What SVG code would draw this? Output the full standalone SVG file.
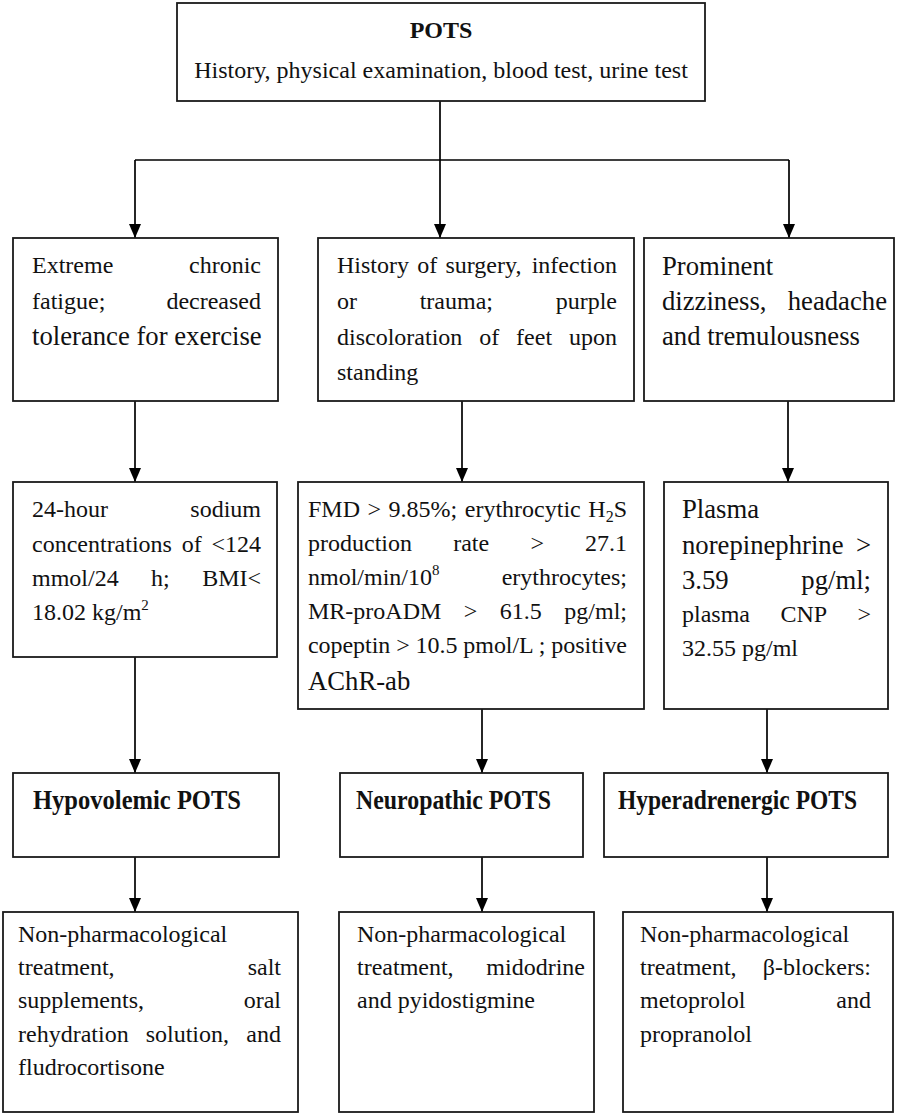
<svg xmlns="http://www.w3.org/2000/svg" width="899" height="1117" viewBox="0 0 899 1117">
<defs>
<marker id="ah" viewBox="0 0 14 12" refX="14" refY="6" markerWidth="14" markerHeight="12" markerUnits="userSpaceOnUse" orient="auto">
<path d="M0,0 L14,6 L0,12 z" fill="#000"/>
</marker>
<style>
.box{fill:#fff;stroke:#1a1a1a;stroke-width:1.8}
.ln{fill:none;stroke:#000;stroke-width:1.7}
.ar{fill:none;stroke:#000;stroke-width:1.7;marker-end:url(#ah)}
text{font-family:"Liberation Serif","Times New Roman",serif;font-size:24px;fill:#111}
.big{font-size:26.7px}
.bold{font-weight:bold}
.ttl{font-weight:bold;font-size:27px}
.e{text-anchor:end}
.c{text-anchor:middle}
</style>
</defs>
<rect width="899" height="1117" fill="#fff"/>

<g id="connectors">
<path class="ln" d="M440,101 V160 M135,160 H789"/>
<path class="ar" d="M135,160 V238"/>
<path class="ar" d="M440,160 V238"/>
<path class="ar" d="M789,160 V238"/>
<path class="ar" d="M135,401 V482"/>
<path class="ar" d="M462,401 V482"/>
<path class="ar" d="M788,401 V482"/>
<path class="ar" d="M135,657 V773"/>
<path class="ar" d="M482,709 V773"/>
<path class="ar" d="M767,709 V773"/>
<path class="ar" d="M135,857 V912"/>
<path class="ar" d="M482,857 V912"/>
<path class="ar" d="M767,857 V912"/>
</g>

<g id="root">
<rect class="box" x="177" y="3" width="528" height="98"/>
<text class="bold c" x="441" y="38">POTS</text>
<text class="c" x="441" y="78">History, physical examination, blood test, urine test</text>
</g>

<g id="sym-hypo">
<rect class="box" x="13" y="238" width="265" height="163"/>
<text y="273"><tspan x="32">Extreme</tspan><tspan class="e" x="261">chronic</tspan></text>
<text y="309"><tspan x="32">fatigue;</tspan><tspan class="e" x="261">decreased</tspan></text>
<text class="big" x="32" y="345">tolerance for exercise</text>
</g>

<g id="sym-neuro">
<rect class="box" x="318" y="238" width="316" height="163"/>
<text y="273"><tspan x="337">History</tspan><tspan x="417.2">of</tspan><tspan x="445.4">surgery,</tspan><tspan class="e" x="617">infection</tspan></text>
<text y="309"><tspan x="337">or</tspan><tspan x="419.7">trauma;</tspan><tspan class="e" x="617">purple</tspan></text>
<text y="345"><tspan x="337">discoloration</tspan><tspan x="479.2">of</tspan><tspan x="516.1">feet</tspan><tspan class="e" x="617">upon</tspan></text>
<text x="337" y="380">standing</text>
</g>

<g id="sym-hyper">
<rect class="box" x="644" y="238" width="250" height="163"/>
<text class="big" x="662" y="275">Prominent</text>
<text class="big" y="310"><tspan x="662">dizziness,</tspan><tspan class="e" x="887">headache</tspan></text>
<text class="big" x="662" y="345">and tremulousness</text>
</g>

<g id="test-hypo">
<rect class="box" x="13" y="482" width="264" height="175"/>
<text y="517"><tspan x="32">24-hour</tspan><tspan class="e" x="261">sodium</tspan></text>
<text y="552"><tspan x="32">concentrations</tspan><tspan x="181.7">of</tspan><tspan class="e" x="261">&lt;124</tspan></text>
<text y="586"><tspan x="32">mmol/24</tspan><tspan x="151.1">h;</tspan><tspan class="e" x="261">BMI&lt;</tspan></text>
<text x="32" y="620">18.02 kg/m<tspan font-size="15" dy="-10">2</tspan></text>
</g>

<g id="test-neuro">
<rect class="box" x="298" y="482" width="346" height="227"/>
<text y="517"><tspan x="308">FMD</tspan><tspan x="367.5">&gt;</tspan><tspan x="388.6">9.85%;</tspan><tspan x="464.8">erythrocytic</tspan><tspan class="e" x="627">H<tspan font-size="16" dy="5">2</tspan><tspan dy="-5">S</tspan></tspan></text>
<text y="551"><tspan x="308">production</tspan><tspan x="453.2">rate</tspan><tspan x="530.4">&gt;</tspan><tspan class="e" x="627">27.1</tspan></text>
<text y="585"><tspan x="308">nmol/min/10<tspan font-size="15" dy="-10">8</tspan></tspan><tspan class="e" x="627" dy="10">erythrocytes;</tspan></text>
<text y="619"><tspan x="308">MR-proADM</tspan><tspan x="463.8">&gt;</tspan><tspan x="499.8">61.5</tspan><tspan class="e" x="627">pg/ml;</tspan></text>
<text x="308" y="653" textLength="319" lengthAdjust="spacing">copeptin &gt; 10.5 pmol/L ; positive</text>
<text class="big" x="308" y="690">AChR-ab</text>
</g>

<g id="test-hyper">
<rect class="box" x="664" y="482" width="224" height="227"/>
<text class="big" x="682" y="518">Plasma</text>
<text class="big" y="554"><tspan x="682">norepinephrine</tspan><tspan class="e" x="871">&gt;</tspan></text>
<text class="big" y="589"><tspan x="682">3.59</tspan><tspan class="e" x="871">pg/ml;</tspan></text>
<text y="622"><tspan x="682">plasma</tspan><tspan x="780.4">CNP</tspan><tspan class="e" x="871">&gt;</tspan></text>
<text x="682" y="656">32.55 pg/ml</text>
</g>

<g id="type-hypo">
<rect class="box" x="13" y="773" width="266" height="84"/>
<text class="ttl" x="33" y="809" textLength="208" lengthAdjust="spacingAndGlyphs">Hypovolemic POTS</text>
</g>
<g id="type-neuro">
<rect class="box" x="340" y="773" width="243" height="84"/>
<text class="ttl" x="356" y="809" textLength="195" lengthAdjust="spacingAndGlyphs">Neuropathic POTS</text>
</g>
<g id="type-hyper">
<rect class="box" x="604" y="773" width="284" height="84"/>
<text class="ttl" x="618" y="809" textLength="239" lengthAdjust="spacingAndGlyphs">Hyperadrenergic POTS</text>
</g>

<g id="tx-hypo">
<rect class="box" x="3" y="912" width="295" height="200"/>
<text x="18" y="942">Non-pharmacological</text>
<text y="975"><tspan x="18">treatment,</tspan><tspan class="e" x="281">salt</tspan></text>
<text y="1008"><tspan x="18">supplements,</tspan><tspan class="e" x="281">oral</tspan></text>
<text y="1042"><tspan x="18">rehydration</tspan><tspan x="145.7">solution,</tspan><tspan class="e" x="281">and</tspan></text>
<text x="18" y="1075">fludrocortisone</text>
</g>
<g id="tx-neuro">
<rect class="box" x="339" y="912" width="255" height="200"/>
<text x="357" y="942">Non-pharmacological</text>
<text y="975"><tspan x="357">treatment,</tspan><tspan class="e" x="585">midodrine</tspan></text>
<text x="357" y="1008">and pyidostigmine</text>
</g>
<g id="tx-hyper">
<rect class="box" x="623" y="912" width="270" height="200"/>
<text x="640" y="942">Non-pharmacological</text>
<text y="975"><tspan x="640">treatment,</tspan><tspan class="e" x="871">β-blockers:</tspan></text>
<text y="1008"><tspan x="640">metoprolol</tspan><tspan class="e" x="871">and</tspan></text>
<text x="640" y="1042">propranolol</text>
</g>
</svg>
